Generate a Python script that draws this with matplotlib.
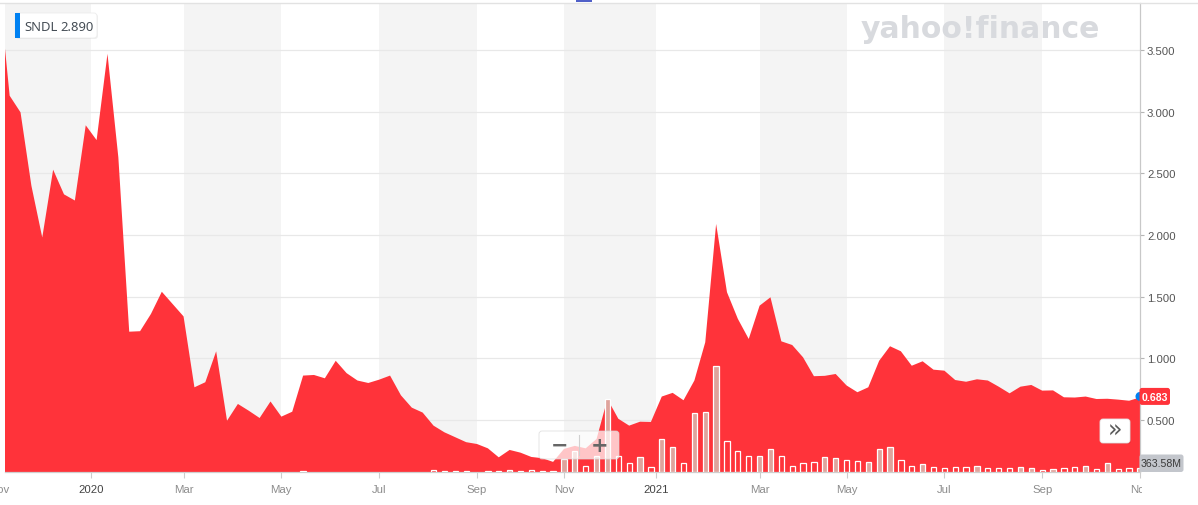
import matplotlib
matplotlib.use("Agg")
import matplotlib.pyplot as plt
import matplotlib.dates as mdates
from matplotlib.patches import FancyBboxPatch, Rectangle, Circle
from matplotlib.transforms import Bbox, TransformedBbox
import pandas as pd

# ---------------- data ----------------
ticker = "SNDL"
legend_price = "2.890"
first_date = "2019-11-01"
weekly_start = "2019-11-04"
weekly_end = "2021-11-01"

close = [3.51,
         3.13, 2.995, 2.40, 1.98, 2.53, 2.33, 2.28, 2.89, 2.77, 3.47,
         2.63, 1.216, 1.22, 1.36, 1.54, 1.44, 1.34, 0.765, 0.806, 1.057,
         0.494, 0.63, 0.575, 0.516, 0.65, 0.527, 0.567, 0.86, 0.865, 0.838,
         0.98, 0.88, 0.82, 0.80, 0.827, 0.86, 0.70, 0.60, 0.56, 0.454,
         0.40, 0.36, 0.32, 0.305, 0.27, 0.197, 0.257, 0.235, 0.20, 0.19,
         0.16, 0.265, 0.29, 0.27, 0.346, 0.67, 0.51, 0.454, 0.486, 0.484,
         0.69, 0.72, 0.66, 0.82, 1.13, 2.09, 1.536, 1.32, 1.157, 1.427,
         1.495, 1.138, 1.108, 1.008, 0.855, 0.858, 0.873, 0.78, 0.725, 0.765,
         0.98, 1.098, 1.057, 0.94, 0.976, 0.908, 0.90, 0.824, 0.81, 0.83,
         0.82, 0.77, 0.716, 0.77, 0.784, 0.738, 0.74, 0.684, 0.682, 0.69,
         0.67, 0.672, 0.665, 0.656, 0.683]

volume_m = [0,
            0, 0, 0, 0, 0, 0, 0, 0, 0, 0,
            0, 0, 0, 0, 0, 0, 0, 0, 0, 0,
            0, 0, 0, 0, 0, 0, 0, 100, 0, 0,
            0, 0, 0, 0, 0, 0, 0, 0, 0, 150,
            130, 140, 130, 0, 120, 130, 230, 120, 150, 120,
            130, 1270, 2030, 560, 1540, 7150, 1540, 850, 1440, 460,
            3230, 2420, 850, 5750, 5850, 10360, 3010, 2030, 1540, 1540,
            2220, 1540, 560, 850, 950, 1440, 1340, 1150, 1050, 950,
            2220, 2420, 1150, 560, 750, 460, 360, 460, 460, 560,
            360, 360, 360, 460, 360, 170, 260, 360, 460, 560,
            260, 850, 260, 360, 363.58]
volume_label = "363.58M"
price_ticks = [0.5, 1.0, 1.5, 2.0, 2.5, 3.0, 3.5]
tick_months = pd.date_range("2019-11-01", "2021-11-01", freq="2MS")

dates = pd.DatetimeIndex([pd.Timestamp(first_date)]).append(
    pd.date_range(weekly_start, weekly_end, freq="7D"))

# ---------------- style ----------------
plt.rcParams["font.family"] = ["Liberation Sans", "DejaVu Sans"]
RED = "#ff333a"
W, H = 1198, 506
AX_L, AX_R, AX_T, AX_B = 5, 1140, 4, 473
rect = [AX_L / W, 1 - AX_B / H, (AX_R - AX_L) / W, (AX_B - AX_T) / H]
YLIM = (0.078, 3.882)

fig = plt.figure(figsize=(W / 100, H / 100), dpi=100)
ax = fig.add_axes(rect)

# tick positions: the week containing the 1st of the month (year ticks half a week earlier)
tick_dates = []
for ms in tick_months:
    d = ms - pd.Timedelta(days=ms.weekday())
    if ms.month == 1:
        d = d - pd.Timedelta(days=3.5)
    tick_dates.append(d)

for i in range(0, len(tick_dates) - 1, 2):
    ax.axvspan(tick_dates[i], tick_dates[i + 1], color="#f4f4f4", lw=0, zorder=0)

ax.set_axisbelow(True)
ax.yaxis.grid(True, color="#e8e8e8", linewidth=0.9)
ax.fill_between(dates, close, -1, color=RED, lw=0, zorder=2)

ax.yaxis.tick_right()
ax.set_yticks(price_ticks)
ax.set_yticklabels([f"{v:.3f}" for v in price_ticks])
ax.tick_params(axis="y", length=3, width=0.8, color="#b5b5b5", pad=2,
               labelsize=8.2, labelcolor="#555555")
for s in ("top", "left"):
    ax.spines[s].set_visible(False)
ax.spines["bottom"].set_color("#cfcfcf")
ax.spines["right"].set_color("#c8c8c8")
ax.spines["bottom"].set_linewidth(0.9)
ax.spines["right"].set_linewidth(0.9)

# volume
axv = fig.add_axes(rect, sharex=ax)
axv.patch.set_visible(False)
axv.axis("off")
xnum = mdates.date2num(dates)
for i in range(len(dates)):
    if volume_m[i] <= 0:
        continue
    up = i > 0 and close[i] >= close[i - 1]
    axv.bar(xnum[i], volume_m[i], width=3.4,
            facecolor="#dfa39c" if up else "none",
            edgecolor="white", linewidth=0.9, zorder=3)

# fix the limits after all drawing (bars autoscale the shared x axis)
ax.set_xlim(dates[0], dates[-1])
ax.set_ylim(*YLIM)
axv.set_ylim(0, 46000)
ax.set_xticks(tick_dates)
ax.tick_params(axis="x", length=4, width=0.8, color="#cccccc", labelbottom=False)
ax.set_xlim(dates[0], dates[-1])

# ---------------- overlay (pixel coordinates) ----------------
ov = fig.add_axes([0, 0, 1, 1], zorder=10)
ov.set_xlim(0, W)
ov.set_ylim(H, 0)
ov.axis("off")
ov.patch.set_visible(False)


def to_px(axis, x, y):
    dx, dy = axis.transData.transform((x, y))
    return dx, H - dy


# top border and range indicator
ov.plot([0, W], [3.5, 3.5], color="#e2e2e2", lw=1)
ov.add_patch(Rectangle((576, 0), 16, 3, color="#5060c8", lw=0))

# x labels (clipped at the right edge of the plot)
clip = TransformedBbox(Bbox([[0, 0], [1142 / W, 1]]), fig.transFigure)
for d, ms in zip(tick_dates, tick_months):
    xp, _ = to_px(ax, mdates.date2num(d), 1)
    is_year = ms.month == 1
    t = ov.text(xp, 490, str(ms.year) if is_year else ms.strftime("%b"),
                ha="center", va="center", fontsize=8.2,
                color="#444444" if is_year else "#8c8c8c")
    t.set_clip_on(True)
    t.set_clip_box(clip)

# legend box
ov.add_patch(FancyBboxPatch((16, 15), 82, 25, boxstyle="round,pad=0,rounding_size=3",
                            fc=(0, 0, 0, 0.06), ec="none"))
ov.add_patch(FancyBboxPatch((15, 14), 82, 25, boxstyle="round,pad=0,rounding_size=3",
                            fc="white", ec="#ececec", lw=0.6))
ov.add_patch(Rectangle((15, 14), 4.5, 25, color="#0081f2", lw=0))
ov.text(24.5, 27, ticker, ha="left", va="center", fontsize=9.4,
        family="Noto Sans", color="#464e56")
ov.text(60, 27, legend_price, ha="left", va="center", fontsize=9.4,
        family="Noto Sans", color="#464e56")

# watermark
ov.text(980, 38, "yahoo!finance", ha="center", va="baseline", fontsize=21.5,
        fontweight="bold", family="DejaVu Sans", color="#d8dade")

# zoom controls
ov.add_patch(FancyBboxPatch((539, 432), 80, 28, boxstyle="round,pad=0,rounding_size=3",
                            fc=(1, 1, 1, 0.72), ec=(0.85, 0.85, 0.85, 0.8), lw=0.6))
ov.plot([579, 579], [436, 456], color="#d0d0d0", lw=0.8)
ov.text(560, 446, "\u2212", ha="center", va="center", fontsize=15,
        fontweight="bold", family="DejaVu Sans", color="#666666")
ov.text(600, 446, "+", ha="center", va="center", fontsize=15,
        fontweight="bold", family="DejaVu Sans", color="#666666")

# scroll button
ov.add_patch(FancyBboxPatch((1101, 421), 30, 24, boxstyle="round,pad=0,rounding_size=3",
                            fc=(0, 0, 0, 0.08), ec="none"))
ov.add_patch(FancyBboxPatch((1100, 420), 30, 24, boxstyle="round,pad=0,rounding_size=3",
                            fc="white", ec="#e6e6e6", lw=0.6))
ov.text(1115, 431, "\u00bb", ha="center", va="center", fontsize=17,
        family="DejaVu Sans", color="#5a5a5a")

# last price marker and label
xl, yl = to_px(ax, xnum[-1], close[-1])
ov.add_patch(Circle((xl, yl - 1), 4.5, color="#0081f2", lw=0))
ov.add_patch(FancyBboxPatch((1139.5, yl - 9.5), 30.5, 17, boxstyle="round,pad=0,rounding_size=2.5",
                            fc=RED, ec="none"))
ov.text(1154.8, yl - 0.8, f"{close[-1]:.3f}", ha="center", va="center", fontsize=7.6,
        fontweight="bold", color="white")

# last volume label
ov.add_patch(FancyBboxPatch((1139.5, AX_B - 17.5), 44, 17.5, boxstyle="round,pad=0,rounding_size=2.5",
                            fc="#c3c6cc", ec="none"))
ov.text(1161.5, AX_B - 8.6, volume_label, ha="center", va="center", fontsize=7.6,
        color="#3a3a3a")

fig.savefig("out.png", dpi=100)
